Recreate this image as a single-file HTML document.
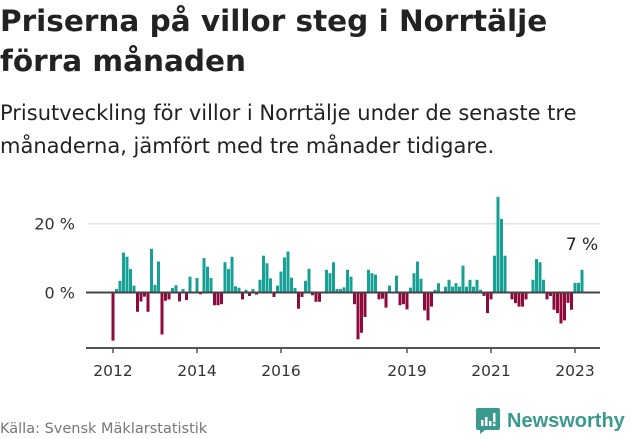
<!DOCTYPE html>
<html><head><meta charset="utf-8"><style>
body{margin:0;width:631px;height:439px;background:#fff;font-family:"DejaVu Sans","Liberation Sans",sans-serif;position:relative;overflow:hidden;color:#222}
#title{position:absolute;left:0;top:1px;font-size:29.5px;font-weight:bold;line-height:40px;margin:0;letter-spacing:0}
#subtitle{position:absolute;left:0;top:97px;font-size:21px;line-height:33px;color:#222}
#source{position:absolute;left:0;top:421px;font-size:14.5px;color:#777}
#logo{position:absolute;left:476px;top:408px;display:flex;align-items:center;font-family:"Liberation Sans",sans-serif}
#logo span{font-size:20px;font-weight:bold;color:#3a9a8e;margin-left:7px}
svg{position:absolute;left:0;top:0}
</style></head><body>
<h1 id="title">Priserna på villor steg i Norrtälje<br>förra månaden</h1>
<div id="subtitle">Prisutveckling för villor i Norrtälje under de senaste tre<br>månaderna, jämfört med tre månader tidigare.</div>
<svg id="chart" width="631" height="439" style="font-family:'DejaVu Sans',sans-serif"></svg>
<div id="source">Källa: Svensk Mäklarstatistik</div>
<div id="logo">
<svg width="24" height="26" viewBox="0 0 24 26" style="position:static"><path d="M2 0h20a2 2 0 0 1 2 2v18a2 2 0 0 1-2 2H9l-5 4v-4H2a2 2 0 0 1-2-2V2a2 2 0 0 1 2-2z" fill="#3a9a8e"/><rect x="5" y="12" width="2.5" height="6" fill="#fff"/><rect x="9" y="9" width="2.5" height="9" fill="#fff"/><rect x="13" y="13" width="2.5" height="5" fill="#fff"/><rect x="17" y="5" width="2.5" height="9" fill="#fff"/><rect x="17" y="15.5" width="2.5" height="2.5" fill="#fff"/></svg>
<span>Newsworthy</span></div>
<script>
const values=[-14,1,3.4,11.6,10.4,6.8,2,-5.6,-2.6,-1.2,-5.6,12.7,2.2,9,-12.2,-2.4,-2,1.3,2.1,-2.6,1,-2.2,4.6,0.3,4.2,-0.5,10,7.5,4.2,-3.7,-3.7,-3.4,8.8,6.8,10.4,1.8,1.4,-2,0.8,-1,1,-0.6,3.7,10.7,8.5,4.1,-1.3,2,6.1,10.2,11.9,4.3,1.3,-4.7,-1.3,3.4,6.9,-0.8,-2.7,-2.7,0.2,6.6,5.6,8.8,1,1,1.5,6.6,4.6,-3.4,-13.6,-11.7,-7.1,6.6,5.6,5.2,-2,-1.8,-4.4,2,0.2,4.9,-3.7,-3.4,-4.9,1.4,5.6,9,4,-5.2,-8.1,-4.1,0.8,2.7,0.2,1.7,3.7,1.7,2.7,1.7,7.8,1.7,3.7,1.7,3.7,0.8,-1,-6,-2,10.7,27.8,21.4,10.7,0.2,-2,-3.1,-4.1,-4.1,-2,0.2,3.7,9.7,8.8,3.7,-2,-1,-5,-6,-9,-8.1,-3,-5,2.8,2.8,6.6];
const yTicks=[0,20];
const xYears=[2012,2014,2016,2019,2021,2023];
const startYear=2012;
const svg=document.getElementById('chart');const NS='http://www.w3.org/2000/svg';
const x0=113,pxMonth=3.5,yZero=292.5,pxPct=3.44;
const xs=m=>x0+m*pxMonth;const ys=v=>yZero-v*pxPct;
function mk(t,a){const e=document.createElementNS(NS,t);for(const k in a)e.setAttribute(k,a[k]);svg.appendChild(e);return e;}
yTicks.forEach(t=>{
 if(t!==0){const g=mk('line',{x1:88,x2:600,y1:ys(t),y2:ys(t),stroke:'#e3e3e3','stroke-width':1.5});
 
 }
 const l=mk('text',{x:75,y:ys(t)+6,'text-anchor':'end','font-size':16,fill:'#333'});l.textContent=t+' %';
 
 
});
values.forEach((v,i)=>{
 const y=Math.min(ys(v),yZero),h=Math.abs(ys(v)-yZero);
 const b=mk('rect',{x:xs(i)-1.5,y:y,width:3,height:h,fill:v>=0?'#16a096':'#8e0a3d'});
 
 
});
const z=mk('line',{x1:86,x2:600,y1:yZero,y2:yZero,stroke:'#444','stroke-width':2});


const ax=mk('line',{x1:86,x2:600,y1:348,y2:348,stroke:'#555','stroke-width':2});


xYears.forEach(yr=>{const x=xs((yr-startYear)*12);
 const tk=mk('line',{x1:x,x2:x,y1:348,y2:353,stroke:'#555','stroke-width':1.5});
 
 
 const t=mk('text',{x:x,y:376,'text-anchor':'middle','font-size':15.5,fill:'#333'});t.textContent=yr;
 
 
});
const last=values.length-1;
const an=mk('text',{x:xs(last),y:ys(values[last])-20,'text-anchor':'middle','font-size':17,fill:'#222'});an.textContent=Math.round(values[last])+' %';


</script>
</body></html>
